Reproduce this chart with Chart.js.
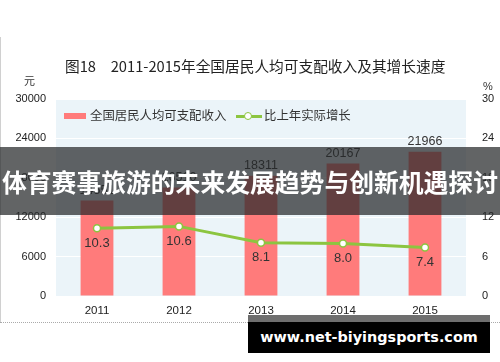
<!DOCTYPE html>
<html><head><meta charset="utf-8">
<script src="https://cdn.jsdelivr.net/npm/chart.js@4"></script>
<style>
html,body{margin:0;padding:0;background:#fff;}
#wrap{position:relative;width:500px;height:362px;overflow:hidden;font-family:"Noto Sans CJK SC","Liberation Sans",sans-serif;}
canvas{position:absolute;left:0;top:0;}
.abs{position:absolute;white-space:nowrap;}
</style></head><body>
<div id="wrap">
<canvas id="c" width="500" height="362"></canvas>
<div class="abs" style="left:0;top:37px;width:1px;height:285px;background:#d0d0d0"></div>
<div class="abs" style="left:0;top:322px;width:500px;height:0;border-top:1px dotted #aaa"></div>
<div class="abs" id="title" style="left:65px;top:55px;font-size:14.7px;color:#222;">图18　2011-2015年全国居民人均可支配收入及其增长速度</div>
<div class="abs" style="left:24px;top:72px;font-size:11px;color:#333;">元</div>
<div class="abs" style="left:483px;top:80px;font-size:11px;color:#333;font-family:'Liberation Sans',sans-serif;">%</div>
<div class="abs" style="left:64px;top:113px;width:22px;height:6px;background:#ff7b7b"></div>
<div class="abs" style="left:90px;top:106px;font-size:12.4px;color:#333;">全国居民人均可支配收入</div>
<div class="abs" style="left:236px;top:115px;width:26px;height:3px;background:#8cc540"></div>
<div class="abs" style="left:244px;top:112px;width:6px;height:6px;border:1.5px solid #8cc540;background:#fff;border-radius:50%"></div>
<div class="abs" style="left:264px;top:106px;font-size:12.4px;color:#333;">比上年实际增长</div>
<div class="abs" style="left:0;top:147px;width:500px;height:68px;background:rgba(38,40,42,0.72);"></div>
<div class="abs" style="left:0;top:147px;width:500px;height:68px;line-height:68px;text-align:center;color:#fff;font-weight:bold;font-size:24.8px;">体育赛事旅游的未来发展趋势与创新机遇探讨</div>
<div class="abs" style="left:248px;top:315px;width:242px;height:7px;background:#6e6e6e"></div>
<div class="abs" style="left:248px;top:322px;width:242px;height:31px;background:#000;color:#fff;font-weight:bold;font-family:'DejaVu Sans',sans-serif;font-size:14.4px;line-height:31px;text-align:center;">www.net-biyingsports.com</div>
</div>
<script>
const categories = ["2011","2012","2013","2014","2015"];
const incomeValues = [14551,16510,18311,20167,21966];
const growthValues = [10.3,10.6,8.1,8.0,7.4];
const leftTicks = [0,6000,12000,18000,24000,30000];
const rightTicks = [0,6,12,18,24,30];

const bgPlugin = {
  id:'bg',
  beforeDraw(chart){
    const {ctx, chartArea:a} = chart;
    ctx.save();
    ctx.fillStyle = '#ebf4f9';
    ctx.fillRect(a.left, a.top, a.right-a.left, a.bottom-a.top);
    ctx.restore();
  }
};
const labelPlugin = {
  id:'labels',
  afterDatasetsDraw(chart){
    const ctx = chart.ctx;
    ctx.save();
    ctx.textAlign='center';
    ctx.textBaseline='middle';
    ctx.fillStyle='#333';
    ctx.font='12.5px "Liberation Sans", sans-serif';
    chart.getDatasetMeta(0).data.forEach((el,i)=>{
      ctx.fillText(String(incomeValues[i]), el.x, el.y-10);
    });
    ctx.font='13px "Liberation Sans", sans-serif';
    chart.getDatasetMeta(1).data.forEach((el,i)=>{
      ctx.fillText(growthValues[i].toFixed(1), el.x, el.y+15);
    });
    ctx.restore();
  }
};

new Chart(document.getElementById('c'), {
  data:{
    labels: categories,
    datasets:[
      {type:'bar', label:'全国居民人均可支配收入', data: incomeValues, yAxisID:'y',
       backgroundColor:'#ff7b7b', barPercentage:0.4, categoryPercentage:1, order:1},
      {type:'line', label:'比上年实际增长', data: growthValues, yAxisID:'y2',
       borderColor:'#8cc540', borderWidth:3, pointRadius:3.5, pointBorderWidth:1.5,
       pointBackgroundColor:'#fff', pointBorderColor:'#8cc540', tension:0, order:0}
    ]
  },
  options:{
    responsive:false, animation:false, devicePixelRatio:1,
    layout:{padding:{top:99,left:0,right:0,bottom:36}},
    plugins:{legend:{display:false}, title:{display:false}, tooltip:{enabled:false}},
    scales:{
      x:{grid:{display:false}, border:{display:false},
         ticks:{color:'#222', font:{size:11.5, family:'"Liberation Sans", sans-serif'}, padding:0},
         afterFit(s){s.height=30;}},
      y:{position:'left', min:0, max:30000,
         afterBuildTicks(s){s.ticks = leftTicks.map(v=>({value:v}));},
         grid:{color:'#ffffff', lineWidth:1, drawTicks:false}, border:{display:false},
         ticks:{color:'#222', font:{size:11, family:'"Liberation Sans", sans-serif'}, padding:10,
                callback:(v)=>String(v)},
         afterFit(s){s.width=56;}},
      y2:{position:'right', min:0, max:30,
         afterBuildTicks(s){s.ticks = rightTicks.map(v=>({value:v}));},
         grid:{display:false, drawTicks:false}, border:{display:false},
         ticks:{color:'#222', font:{size:11, family:'"Liberation Sans", sans-serif'}, padding:16,
                callback:(v)=>String(v)},
         afterFit(s){s.width=34;}}
    }
  },
  plugins:[bgPlugin, labelPlugin]
});
</script>
</body></html>
